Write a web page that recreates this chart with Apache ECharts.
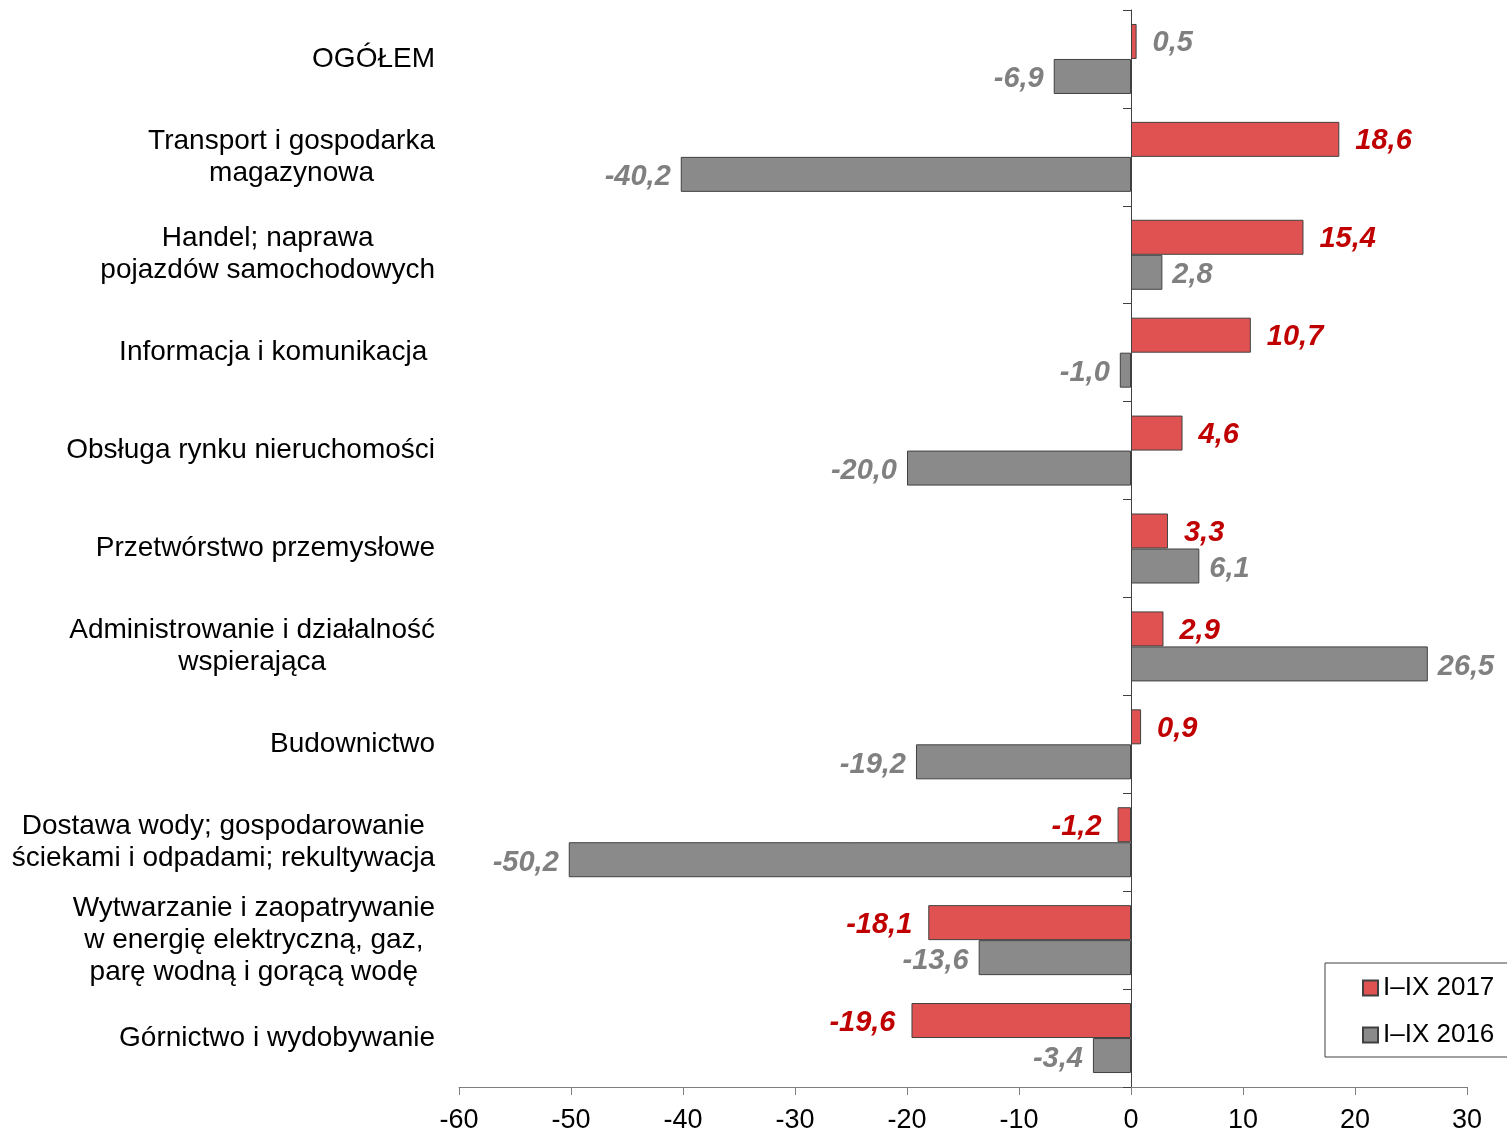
<!DOCTYPE html>
<html>
<head>
<meta charset="utf-8">
<script src="https://cdn.jsdelivr.net/npm/echarts@6/dist/echarts.min.js"></script>
<style>
  html, body { margin: 0; padding: 0; background: #fff; }
  #chart { width: 1507px; height: 1134px; }
</style>
</head>
<body>
<div id="chart"></div>
<script>
const categories = [
  "OGÓŁEM",
  "Transport i gospodarka\nmagazynowa",
  "Handel; naprawa\npojazdów samochodowych",
  "Informacja i komunikacja ",
  "Obsługa rynku nieruchomości",
  "Przetwórstwo przemysłowe",
  "Administrowanie i działalność\nwspierająca",
  "Budownictwo",
  "Dostawa wody; gospodarowanie\nściekami i odpadami; rekultywacja",
  "Wytwarzanie i zaopatrywanie\nw energię elektryczną, gaz,\nparę wodną i gorącą wodę",
  "Górnictwo i wydobywanie"
];
const values2017 = [0.5, 18.6, 15.4, 10.7, 4.6, 3.3, 2.9, 0.9, -1.2, -18.1, -19.6];
const values2016 = [-6.9, -40.2, 2.8, -1.0, -20.0, 6.1, 26.5, -19.2, -50.2, -13.6, -3.4];
// which 2017 labels are printed in grey in the original
const grey2017Labels = [0];

const RED = "#E05252";
const RED_TEXT = "#C00000";
const GREY = "#8A8A8A";
const GREY_TEXT = "#808080";
const FONT = "Liberation Sans, Arial, sans-serif";

const chart = echarts.init(document.getElementById("chart"));

function fmt(v) {
  return v.toFixed(1).replace(".", ",");
}

function barData(values, textColor, greyIdx) {
  return values.map((v, i) => ({
    value: v,
    label: {
      position: v < 0 ? "left" : "right",
      color: greyIdx && greyIdx.indexOf(i) >= 0 ? GREY_TEXT : textColor
    }
  }));
}

const valueLabel = {
  show: true,
  fontFamily: FONT,
  fontSize: 29,
  fontWeight: "bold",
  fontStyle: "italic",
  formatter: p => fmt(p.value)
};

const option = {
  animation: false,
  backgroundColor: "#fff",
  grid: { left: 459, right: 40, top: 10, bottom: 47 },
  legend: {
    orient: "vertical",
    left: 1325,
    top: 963,
    padding: [12, 40, 9, 37],
    itemGap: 21,
    itemWidth: 15,
    itemHeight: 15,
    icon: "rect",
    borderColor: "#404040",
    borderWidth: 1,
    textStyle: { fontFamily: FONT, fontSize: 26, color: "#000", lineHeight: 26 },
    data: ["I–IX 2017", "I–IX 2016"]
  },
  xAxis: {
    type: "value",
    min: -60,
    max: 30,
    interval: 10,
    splitLine: { show: false },
    axisLine: { show: true, onZero: false, lineStyle: { color: "#7f7f7f", width: 1 } },
    axisTick: { show: true, length: 8, lineStyle: { color: "#7f7f7f" } },
    axisLabel: { fontFamily: FONT, fontSize: 27, color: "#000", margin: 20 }
  },
  yAxis: [
    {
      type: "category",
      inverse: true,
      data: categories,
      axisLine: { show: true, onZero: true, lineStyle: { color: "#404040", width: 1 } },
      axisTick: { show: true, length: 8, lineStyle: { color: "#404040" } },
      axisLabel: { show: false }
    },
    {
      type: "category",
      position: "left",
      inverse: true,
      data: categories,
      axisLine: { show: false, onZero: false },
      axisTick: { show: false },
      axisLabel: {
        margin: 24,
        align: "right",
        formatter: v => v.split("\n").map(l => "{c|" + l + "}").join("\n"),
        rich: {
          c: { align: "center", fontFamily: FONT, fontSize: 28, lineHeight: 32, color: "#000" }
        }
      }
    }
  ],
  series: [
    {
      name: "I–IX 2017",
      type: "bar",
      yAxisIndex: 0,
      barWidth: 35,
      barGap: "0%",
      itemStyle: { color: RED, borderColor: "#404040", borderWidth: 1 },
      label: Object.assign({}, valueLabel, { distance: 16, offset: [0, 2] }),
      data: barData(values2017, RED_TEXT, grey2017Labels)
    },
    {
      name: "I–IX 2016",
      type: "bar",
      yAxisIndex: 0,
      barWidth: 35,
      barGap: "0%",
      itemStyle: { color: GREY, borderColor: "#404040", borderWidth: 1 },
      label: Object.assign({}, valueLabel, { distance: 10, offset: [0, 3] }),
      data: barData(values2016, GREY_TEXT)
    }
  ]
};

chart.setOption(option);
</script>
</body>
</html>
